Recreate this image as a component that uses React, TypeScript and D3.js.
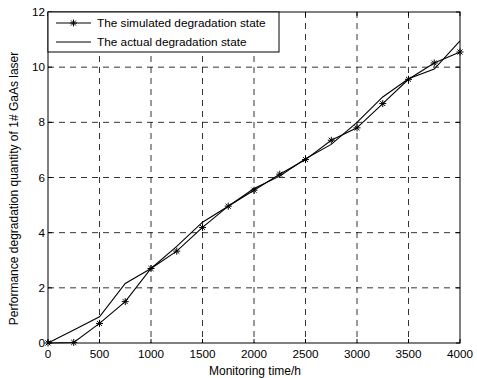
import React from "react";
import * as d3 from "d3";

const times = [0, 250, 500, 750, 1000, 1250, 1500, 1750, 2000, 2250, 2500, 2750, 3000, 3250, 3500, 3750, 4000];
const simulated = [0, 0.02, 0.71, 1.5, 2.7, 3.33, 4.19, 4.96, 5.54, 6.12, 6.65, 7.35, 7.8, 8.68, 9.56, 10.15, 10.55];
const actual = [0, 0.47, 0.95, 2.16, 2.7, 3.5, 4.38, 4.96, 5.6, 6.05, 6.68, 7.2, 8.0, 8.92, 9.58, 9.93, 10.95];
const xTicks = [0, 500, 1000, 1500, 2000, 2500, 3000, 3500, 4000];
const yTicks = [0, 2, 4, 6, 8, 10, 12];
const legendLabels = ["The simulated degradation state", "The actual degradation state"];

const W = 477, H = 378;
const L = 48, R = 460, T = 12, B = 343;

function Star({ x, y, s = 3.5 }: { x: number; y: number; s?: number }) {
  const d = s * 0.72;
  return (
    <g stroke="#000" strokeWidth={1}>
      <line x1={x - s} y1={y} x2={x + s} y2={y} />
      <line x1={x} y1={y - s} x2={x} y2={y + s} />
      <line x1={x - d} y1={y - d} x2={x + d} y2={y + d} />
      <line x1={x - d} y1={y + d} x2={x + d} y2={y - d} />
    </g>
  );
}

export default function App() {
  const x = d3.scaleLinear().domain([0, 4000]).range([L, R]);
  const y = d3.scaleLinear().domain([0, 12]).range([B, T]);
  const line = d3.line<number>().x((_, i) => x(times[i])).y((v) => y(v));
  const font = "'Liberation Sans', Arial, sans-serif";
  const legW = 231, legH = 40;
  return (
    <svg width={W} height={H} style={{ position: "absolute", left: 0, top: 0, background: "#fff" }} fontFamily={font}>
      <rect x={0} y={0} width={W} height={H} fill="#fff" />
      {/* grid */}
      {xTicks.slice(1, -1).map((t) => (
        <line key={"gx" + t} x1={x(t)} x2={x(t)} y1={T} y2={B} stroke="#000" strokeWidth={0.8} strokeDasharray="6,5" />
      ))}
      {yTicks.slice(1, -1).map((t) => (
        <line key={"gy" + t} x1={L} x2={R} y1={y(t)} y2={y(t)} stroke="#000" strokeWidth={0.8} strokeDasharray="6,5" />
      ))}
      {/* ticks */}
      {xTicks.map((t) => (
        <g key={"tx" + t}>
          <line x1={x(t)} x2={x(t)} y1={B} y2={B - 4} stroke="#000" />
          <line x1={x(t)} x2={x(t)} y1={T} y2={T + 4} stroke="#000" />
          <text x={x(t)} y={B + 15} fontSize={11.7} textAnchor="middle">{t}</text>
        </g>
      ))}
      {yTicks.map((t) => (
        <g key={"ty" + t}>
          <line x1={L} x2={L + 4} y1={y(t)} y2={y(t)} stroke="#000" />
          <line x1={R} x2={R - 4} y1={y(t)} y2={y(t)} stroke="#000" />
          <text x={L - 3} y={y(t) + 4} fontSize={11.7} textAnchor="end">{t}</text>
        </g>
      ))}
      {/* data */}
      <path d={line(actual) || ""} fill="none" stroke="#000" strokeWidth={1.1} />
      <path d={line(simulated) || ""} fill="none" stroke="#000" strokeWidth={1.1} />
      {simulated.map((v, i) => (
        <Star key={"m" + i} x={x(times[i])} y={y(v)} />
      ))}
      {/* frame */}
      <rect x={L} y={T} width={R - L} height={B - T} fill="none" stroke="#000" strokeWidth={1} />
      {/* legend */}
      <rect x={L} y={T} width={legW} height={legH} fill="#fff" stroke="#000" strokeWidth={1} />
      <line x1={L + 8} x2={L + 43} y1={T + 11} y2={T + 11} stroke="#000" />
      <Star x={L + 25.5} y={T + 11} />
      <text x={L + 49} y={T + 15} fontSize={11.8}>{legendLabels[0]}</text>
      <line x1={L + 8} x2={L + 43} y1={T + 30} y2={T + 30} stroke="#000" />
      <text x={L + 49} y={T + 34} fontSize={11.8}>{legendLabels[1]}</text>
      {/* axis labels */}
      <text x={(L + R) / 2 + 1} y={B + 32} fontSize={12} textAnchor="middle">Monitoring time/h</text>
      <text transform={`translate(18,${(T + B) / 2 + 11}) rotate(-90)`} fontSize={12} textAnchor="middle">Performance degradation quantity of 1# GaAs laser</text>
    </svg>
  );
}
